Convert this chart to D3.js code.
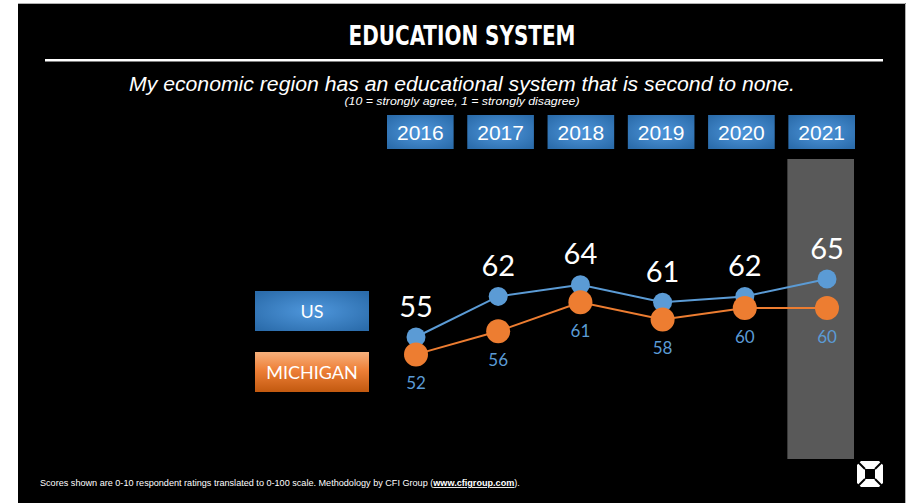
<!DOCTYPE html>
<html>
<head>
<meta charset="utf-8">
<script src="https://cdn.jsdelivr.net/npm/d3@7"></script>
<style>
  body{margin:0;background:#fff;}
  svg{display:block;}
</style>
</head>
<body>
<svg id="chart" width="913" height="503"></svg>
<script>
//data
var years = ['2016','2017','2018','2019','2020','2021'];
var usScores = [55,62,64,61,62,65];
var michiganScores = [52,56,61,58,60,60];
var seriesNames = ['US','MICHIGAN'];
var highlightYear = '2021';

var svg = d3.select('#chart');
var usColor = '#5b9bd5',
    miColor = '#ed7d31';

//gradients
var defs = svg.append('defs');
var blueGrad = defs.append('radialGradient').attr('id','blueBox').attr('cx','50%').attr('cy','50%').attr('r','65%');
blueGrad.append('stop').attr('offset','0%').attr('stop-color','#4f97dc');
blueGrad.append('stop').attr('offset','100%').attr('stop-color','#2b6cab');
var orangeGrad = defs.append('linearGradient').attr('id','orangeBox').attr('x1',0).attr('x2',0).attr('y1',0).attr('y2',1);
orangeGrad.append('stop').attr('offset','0%').attr('stop-color','#f6b07c');
orangeGrad.append('stop').attr('offset','45%').attr('stop-color','#ee8038');
orangeGrad.append('stop').attr('offset','100%').attr('stop-color','#c2590f');

//slide background
svg.append('rect').attr('x',18).attr('y',3).attr('width',888).attr('height',500).style('fill','#000');
svg.append('path').attr('d','M18,3.5H905.5V503').style('fill','none').style('stroke','#b0b0b0').style('stroke-width',1);

//title
svg.append('text')
   .text('EDUCATION SYSTEM')
   .attr('x',462).attr('y',45)
   .attr('textLength',227).attr('lengthAdjust','spacingAndGlyphs')
   .style('text-anchor','middle')
   .style('font-family','"Liberation Sans Narrow","DejaVu Sans Condensed","Roboto",sans-serif')
   .style('font-weight','bold').style('font-size','27px')
   .style('fill','#fff');
svg.append('rect').attr('x',45).attr('y',59).attr('width',838).attr('height',2.5).style('fill','#fff');

svg.append('text')
   .text('My economic region has an educational system that is second to none.')
   .attr('x',462).attr('y',91)
   .attr('textLength',666).attr('lengthAdjust','spacingAndGlyphs')
   .style('text-anchor','middle')
   .style('font-family','"Liberation Sans",Arial,sans-serif')
   .style('font-style','italic').style('font-size','20px')
   .style('fill','#fff');
svg.append('text')
   .text('(10 = strongly agree, 1 = strongly disagree)')
   .attr('x',462).attr('y',105)
   .attr('textLength',235).attr('lengthAdjust','spacingAndGlyphs')
   .style('text-anchor','middle')
   .style('font-family','"Liberation Sans",Arial,sans-serif')
   .style('font-style','italic').style('font-size','11px')
   .style('fill','#fff');

//scales
var xBand = d3.scaleBand().domain(years).range([387,855]).paddingInner(0.17).paddingOuter(0);
var x = d3.scalePoint().domain(years).range([416,827]);
var y = d3.scaleLinear().domain([50,70]).range([366,250]);

//highlight column for latest year
svg.append('rect')
   .attr('x',xBand(highlightYear)-1).attr('y',159)
   .attr('width',xBand.bandwidth()).attr('height',300)
   .style('fill','#595959');

//year header boxes
var yearBox = svg.append('g').selectAll('g')
   .data(years).enter().append('g')
   .attr('transform',d=>'translate('+xBand(d)+',115)');
yearBox.append('rect')
   .attr('width',xBand.bandwidth()).attr('height',34)
   .style('fill','url(#blueBox)');
yearBox.append('text')
   .text(d=>d)
   .attr('x',xBand.bandwidth()/2).attr('y',17)
   .style('dominant-baseline','central').style('text-anchor','middle')
   .style('font-family','"Liberation Sans",Arial,sans-serif').style('font-size','21px')
   .style('fill','#fff');

//legend boxes
var legend = svg.append('g').selectAll('g')
   .data(seriesNames).enter().append('g')
   .attr('transform',(d,i)=>'translate(255,'+(291+i*61)+')');
legend.append('rect')
   .attr('width',114).attr('height',40)
   .style('fill',(d,i)=>i?'url(#orangeBox)':'url(#blueBox)');
legend.append('text')
   .text(d=>d)
   .attr('x',57).attr('y',20)
   .style('dominant-baseline','central').style('text-anchor','middle')
   .style('font-family','Lato,"Open Sans",sans-serif').style('font-size','18px')
   .style('fill','#fff');

//lines and dots
var series = [
  {name:'US',values:usScores,color:usColor,r:9.5},
  {name:'MICHIGAN',values:michiganScores,color:miColor,r:12}
];
var line = d3.line().x((d,i)=>x(years[i])).y(d=>y(d));

series.forEach(function(s){
  var g = svg.append('g');
  g.append('path')
   .attr('d',line(s.values))
   .style('fill','none').style('stroke',s.color).style('stroke-width',2);
  g.selectAll('circle')
   .data(s.values).enter().append('circle')
   .attr('cx',(d,i)=>x(years[i])).attr('cy',d=>y(d))
   .attr('r',s.r)
   .style('fill',s.color);
});

//data labels
svg.append('g').selectAll('text')
   .data(usScores).enter().append('text')
   .text(d=>d)
   .attr('x',(d,i)=>x(years[i])).attr('y',d=>y(d)-32)
   .style('dominant-baseline','central').style('text-anchor','middle')
   .style('font-family','Lato,"Open Sans",sans-serif').style('font-size','29px')
   .style('fill','#fff');
svg.append('g').selectAll('text')
   .data(michiganScores).enter().append('text')
   .text(d=>d)
   .attr('x',(d,i)=>x(years[i])).attr('y',d=>y(d)+28)
   .style('dominant-baseline','central').style('text-anchor','middle')
   .style('font-family','Lato,"Open Sans",sans-serif').style('font-size','17px')
   .style('fill',usColor);

//footnote
var foot = svg.append('text')
   .attr('x',40).attr('y',486)
   .style('font-family','"Liberation Sans",Arial,sans-serif').style('font-size','9.1px')
   .style('fill','#fff');
foot.append('tspan').text('Scores shown are 0-10 respondent ratings translated to 0-100 scale. Methodology by CFI Group (');
foot.append('tspan').text('www.cfigroup.com').style('font-weight','bold').style('text-decoration','underline');
foot.append('tspan').text(').');

//logo
var logo = svg.append('g').attr('transform','translate(870,474)');
var outer = 13, inner = 5, cut = 4;
logo.append('path')
   .attr('d','M'+(-outer+cut)+','+(-outer)+'H'+(outer-cut)+'L'+outer+','+(-outer+cut)+'V'+(outer-cut)+'L'+(outer-cut)+','+outer+'H'+(-outer+cut)+'L'+(-outer)+','+(outer-cut)+'V'+(-outer+cut)+'Z')
   .style('fill','#fff');
logo.append('rect').attr('x',-inner).attr('y',-inner).attr('width',inner*2).attr('height',inner*2).style('fill','#000');
[[-1,-1],[1,-1],[1,1],[-1,1]].forEach(function(c){
  logo.append('line')
     .attr('x1',c[0]*inner).attr('y1',c[1]*inner)
     .attr('x2',c[0]*(outer-1.5)).attr('y2',c[1]*(outer-1.5))
     .style('stroke','#000').style('stroke-width',2);
});
</script>
</body>
</html>
